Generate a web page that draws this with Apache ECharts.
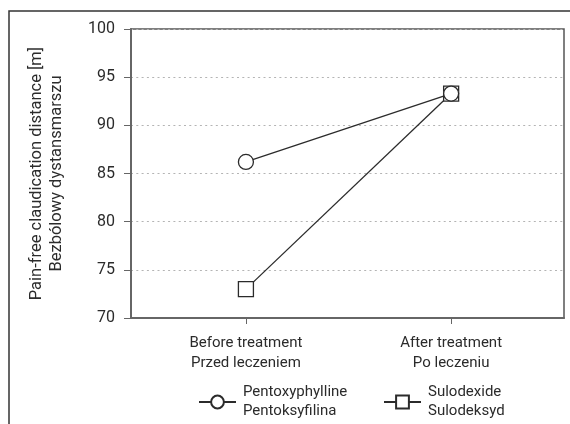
<!DOCTYPE html>
<html>
<head>
<meta charset="utf-8">
<script src="https://cdn.jsdelivr.net/npm/echarts@6/dist/echarts.min.js"></script>
<style>
  html, body { margin: 0; padding: 0; background: #fff; }
  #main { width: 570px; height: 424px; }
</style>
</head>
<body>
<div id="main"></div>
<script>
var categories = ['Before treatment\nPrzed leczeniem', 'After treatment\nPo leczeniu'];
var pentoxValues = [86.2, 93.3];
var sulodValues = [73.0, 93.3];
var yTicks = [70, 75, 80, 85, 90, 95, 100];

var font = 'Roboto, sans-serif';
var ink = '#2b2b2b';

function pairs(vals) {
    return vals.map(function (v, i) { return [i, v]; });
}

// two-line legend text pushed a bit away from the icon
function legendText(n) {
    return n.split('\n').map(function (s) { return '{t|' + s + '}'; }).join('\n');
}
var legendStyle = {
    fontFamily: font, fontSize: 15, color: ink, lineHeight: 19,
    rich: { t: { fontFamily: font, fontSize: 15, color: ink, lineHeight: 19, padding: [0, 0, 0, 2] } }
};

var myChart = echarts.init(document.getElementById('main'));
var option = {
    animation: false,
    textStyle: { fontFamily: font },
    graphic: [{
        type: 'rect',
        shape: { x: 9, y: 11, width: 620, height: 500 },
        style: { fill: 'none', stroke: '#333', lineWidth: 1.5 },
        silent: true
    }],
    grid: {
        left: 131, top: 29, right: 6, bottom: 106,
        outerBoundsMode: 'none',
        containLabel: false,
        show: true,
        borderColor: '#555',
        borderWidth: 1.5
    },
    legend: [{
        left: 193, top: 378,
        itemWidth: 37, itemHeight: 16,
        data: ['Pentoxyphylline\nPentoksyfilina'],
        formatter: legendText,
        textStyle: legendStyle
    }, {
        left: 378, top: 378,
        itemWidth: 37, itemHeight: 16,
        data: ['Sulodexide\nSulodeksyd'],
        formatter: legendText,
        textStyle: legendStyle
    }],
    xAxis: {
        type: 'value',
        min: -0.56,
        max: 1.55,
        splitLine: { show: false },
        axisLine: { onZero: false, lineStyle: { color: '#666', width: 2 } },
        axisTick: { customValues: [0, 1], length: 6, lineStyle: { color: '#666' } },
        axisLabel: {
            customValues: [0, 1],
            margin: 15,
            fontFamily: font,
            fontSize: 15,
            lineHeight: 20,
            color: ink,
            formatter: function (v) { return categories[Math.round(v)]; }
        }
    },
    yAxis: {
        type: 'value',
        min: yTicks[0],
        max: yTicks[yTicks.length - 1],
        interval: 5,
        name: 'Pain-free claudication distance [m]\nBezbólowy dystansmarszu',
        nameLocation: 'middle',
        nameRotate: 90,
        nameGap: 64,
        nameTextStyle: { fontFamily: font, fontSize: 16.5, color: ink, lineHeight: 20 },
        axisLine: { show: true, onZero: false, lineStyle: { color: '#666', width: 2 } },
        axisTick: { show: true, length: 7, lineStyle: { color: '#666' } },
        axisLabel: { margin: 16, fontFamily: font, fontSize: 16, color: ink },
        splitLine: { show: true, lineStyle: { color: '#b4b4b4', type: [2, 3.3], width: 1 } }
    },
    series: [{
        name: 'Pentoxyphylline\nPentoksyfilina',
        type: 'line',
        z: 4,
        data: pairs(pentoxValues),
        symbol: 'circle',
        symbolSize: 15,
        lineStyle: { color: ink, width: 1.3 },
        itemStyle: { color: '#fff', borderColor: ink, borderWidth: 1.3 }
    }, {
        name: 'Sulodexide\nSulodeksyd',
        type: 'line',
        z: 3,
        data: pairs(sulodValues),
        symbol: 'rect',
        symbolSize: 15,
        lineStyle: { color: ink, width: 1.3 },
        itemStyle: { color: '#fff', borderColor: ink, borderWidth: 1.3 }
    }]
};
myChart.setOption(option);
</script>
</body>
</html>
